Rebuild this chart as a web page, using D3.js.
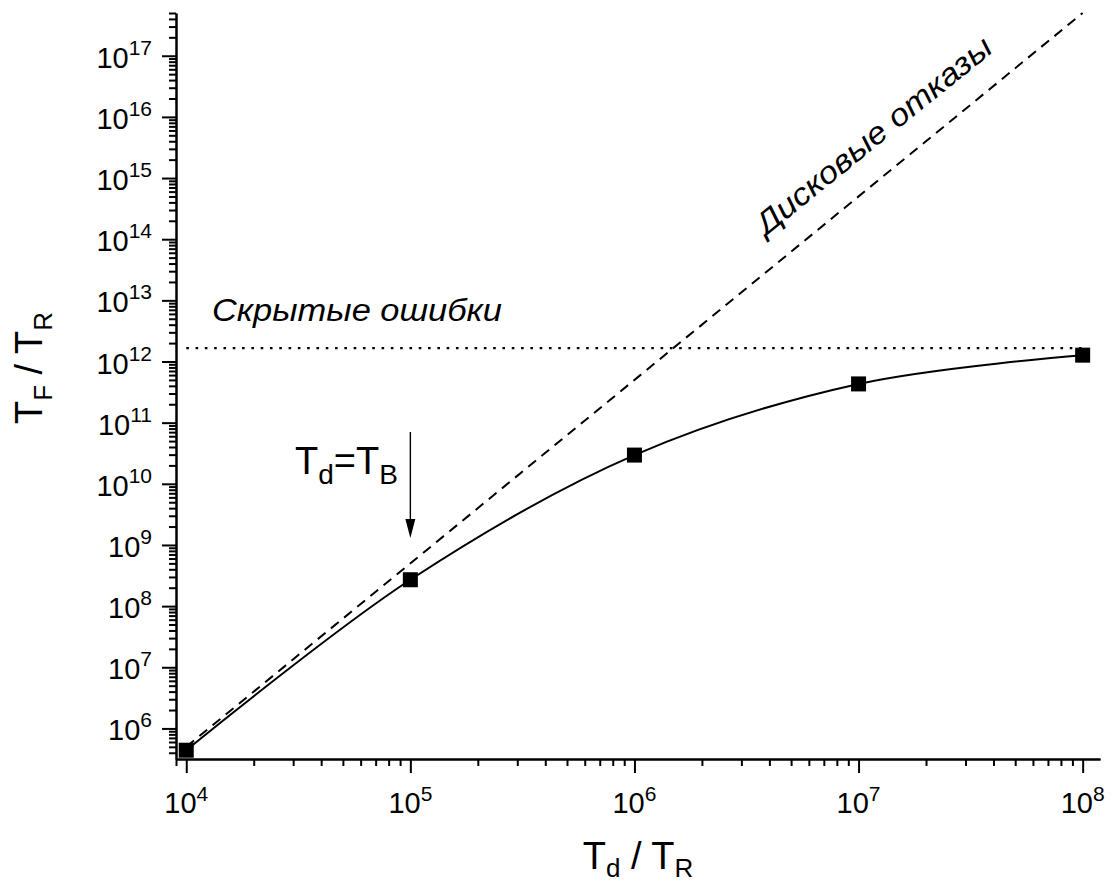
<!DOCTYPE html>
<html><head><meta charset="utf-8">
<script src="https://cdn.jsdelivr.net/npm/d3@7"></script>
<style>
html,body{margin:0;padding:0;background:#fff;}
svg{display:block;font-family:"Liberation Sans",Arial,sans-serif;}
</style></head>
<body>
<svg id="chart" width="1119" height="883"></svg>
<script>
// ---- data ----
const tdValues = [1e4, 1e5, 1e6, 1e7, 1e8];            // T_d / T_R
const tfValues = [4.4e5, 2.7e8, 2.95e10, 4.3e11, 1.27e12]; // T_F / T_R
const diskX = [1e4, 1e8];        // "Дисковые отказы" asymptote
const diskY = [5e5, 5e17];
const latentX = [1e4, 1e8];      // "Скрытые ошибки" asymptote
const latentY = [1.65e12, 1.65e12];
const xMajorExp = [4, 5, 6, 7, 8];
const yMajorExp = [6, 7, 8, 9, 10, 11, 12, 13, 14, 15, 16, 17];
const xDomain = [9e3, 1.195e8];
const yDomain = [Math.pow(10, 5.5), 5e17];
const markerT = 1e5;  // T_d = T_B

const svg = d3.select("#chart");
const x = d3.scaleLog().domain(xDomain).range([176, 1100]);
const y = d3.scaleLog().domain(yDomain).range([759, 13]);

function minorTicks(scale) {
  const [a, b] = scale.domain();
  const out = [];
  for (let e = Math.floor(Math.log10(a)); e <= Math.ceil(Math.log10(b)); e++) {
    for (let k = 2; k <= 9; k++) {
      const v = k * Math.pow(10, e);
      if (v >= a * 0.999 && v <= b * 1.001) out.push(v);
    }
  }
  return out;
}

// axes
const gx = svg.append("g").attr("transform", "translate(0,759)");
gx.call(d3.axisBottom(x).tickValues(minorTicks(x)).tickSize(7).tickSizeOuter(0).tickFormat(""));
const gx2 = svg.append("g").attr("transform", "translate(0,759)");
gx2.call(d3.axisBottom(x).tickValues(xMajorExp.map(e => Math.pow(10, e))).tickSize(14).tickSizeOuter(0).tickFormat(""));

const gy = svg.append("g").attr("transform", "translate(176,0)");
gy.call(d3.axisLeft(y).tickValues(minorTicks(y)).tickSize(7).tickSizeOuter(0).tickFormat(""));
const gy2 = svg.append("g").attr("transform", "translate(176,0)");
gy2.call(d3.axisLeft(y).tickValues(yMajorExp.map(e => Math.pow(10, e))).tickSize(14).tickSizeOuter(0).tickFormat(""));

svg.selectAll(".domain").attr("stroke", "#000").attr("stroke-width", 2);
svg.selectAll(".tick line").attr("stroke", "#000").attr("stroke-width", 2);

// tick labels
xMajorExp.forEach(e => {
  const t = svg.append("text").attr("x", x(Math.pow(10, e))).attr("y", 813)
    .attr("text-anchor", "middle").attr("font-size", 29).attr("fill", "#000");
  t.append("tspan").text("10");
  t.append("tspan").attr("font-size", 21).attr("dy", -12).text(e);
});
yMajorExp.forEach(e => {
  const t = svg.append("text").attr("x", 152).attr("y", y(Math.pow(10, e)) + 12)
    .attr("text-anchor", "end").attr("font-size", 29).attr("fill", "#000");
  t.append("tspan").text("10");
  t.append("tspan").attr("font-size", 21).attr("dy", -13).text(e);
});

// axis titles
const xt = svg.append("text").attr("x", 638).attr("y", 869).attr("text-anchor", "middle")
  .attr("font-size", 38).attr("fill", "#000");
xt.append("tspan").text("T");
xt.append("tspan").attr("font-size", 26).attr("dy", 8).text("d");
xt.append("tspan").attr("dy", -8).text(" / T");
xt.append("tspan").attr("font-size", 26).attr("dy", 8).text("R");

const yt = svg.append("text").attr("transform", "translate(42,368) rotate(-90)").attr("text-anchor", "middle")
  .attr("font-size", 38).attr("fill", "#000");
yt.append("tspan").text("T");
yt.append("tspan").attr("font-size", 26).attr("dy", 10).text("F");
yt.append("tspan").attr("dy", -10).text(" / T");
yt.append("tspan").attr("font-size", 26).attr("dy", 10).text("R");

// asymptote lines
svg.append("path").datum(d3.zip(latentX, latentY))
  .attr("d", d3.line().x(d => x(d[0])).y(d => y(d[1])))
  .attr("fill", "none").attr("stroke", "#000").attr("stroke-width", 2.2).attr("stroke-dasharray", "2.6,6.7");
svg.append("path").datum(d3.zip(diskX, diskY))
  .attr("d", d3.line().x(d => x(d[0])).y(d => y(d[1])))
  .attr("fill", "none").attr("stroke", "#000").attr("stroke-width", 2).attr("stroke-dasharray", "10,7");

// solid curve
svg.append("path").datum(d3.zip(tdValues, tfValues))
  .attr("d", d3.line().x(d => x(d[0])).y(d => y(d[1])).curve(d3.curveCatmullRom.alpha(0.5)))
  .attr("fill", "none").attr("stroke", "#000").attr("stroke-width", 2);

// markers
svg.selectAll("rect.m").data(d3.zip(tdValues, tfValues)).enter().append("rect")
  .attr("class", "m")
  .attr("x", d => x(d[0]) - 7.5).attr("y", d => y(d[1]) - 7.5)
  .attr("width", 15).attr("height", 15).attr("fill", "#000");

// annotations
svg.append("text").attr("x", 212).attr("y", 321).attr("font-size", 31).attr("font-style", "italic")
  .attr("textLength", 290).attr("lengthAdjust", "spacingAndGlyphs")
  .attr("fill", "#000").text("Скрытые ошибки");

svg.append("text").attr("transform", "translate(766,236) rotate(-39)").attr("font-size", 31)
  .attr("textLength", 294).attr("lengthAdjust", "spacingAndGlyphs")
  .attr("font-style", "italic").attr("fill", "#000").text("Дисковые отказы");

const ann = svg.append("text").attr("x", 295).attr("y", 474).attr("font-size", 38).attr("fill", "#000");
ann.append("tspan").text("T");
ann.append("tspan").attr("font-size", 28).attr("dy", 10).text("d");
ann.append("tspan").attr("dy", -10).text("=T");
ann.append("tspan").attr("font-size", 28).attr("dy", 10).text("B");

// arrow
const ax = x(markerT);
svg.append("line").attr("x1", ax).attr("x2", ax).attr("y1", 432).attr("y2", 524)
  .attr("stroke", "#000").attr("stroke-width", 1.4);
svg.append("path").attr("d", `M${ax - 5},519 L${ax + 5},519 L${ax},538 Z`).attr("fill", "#000");
</script>
</body></html>
